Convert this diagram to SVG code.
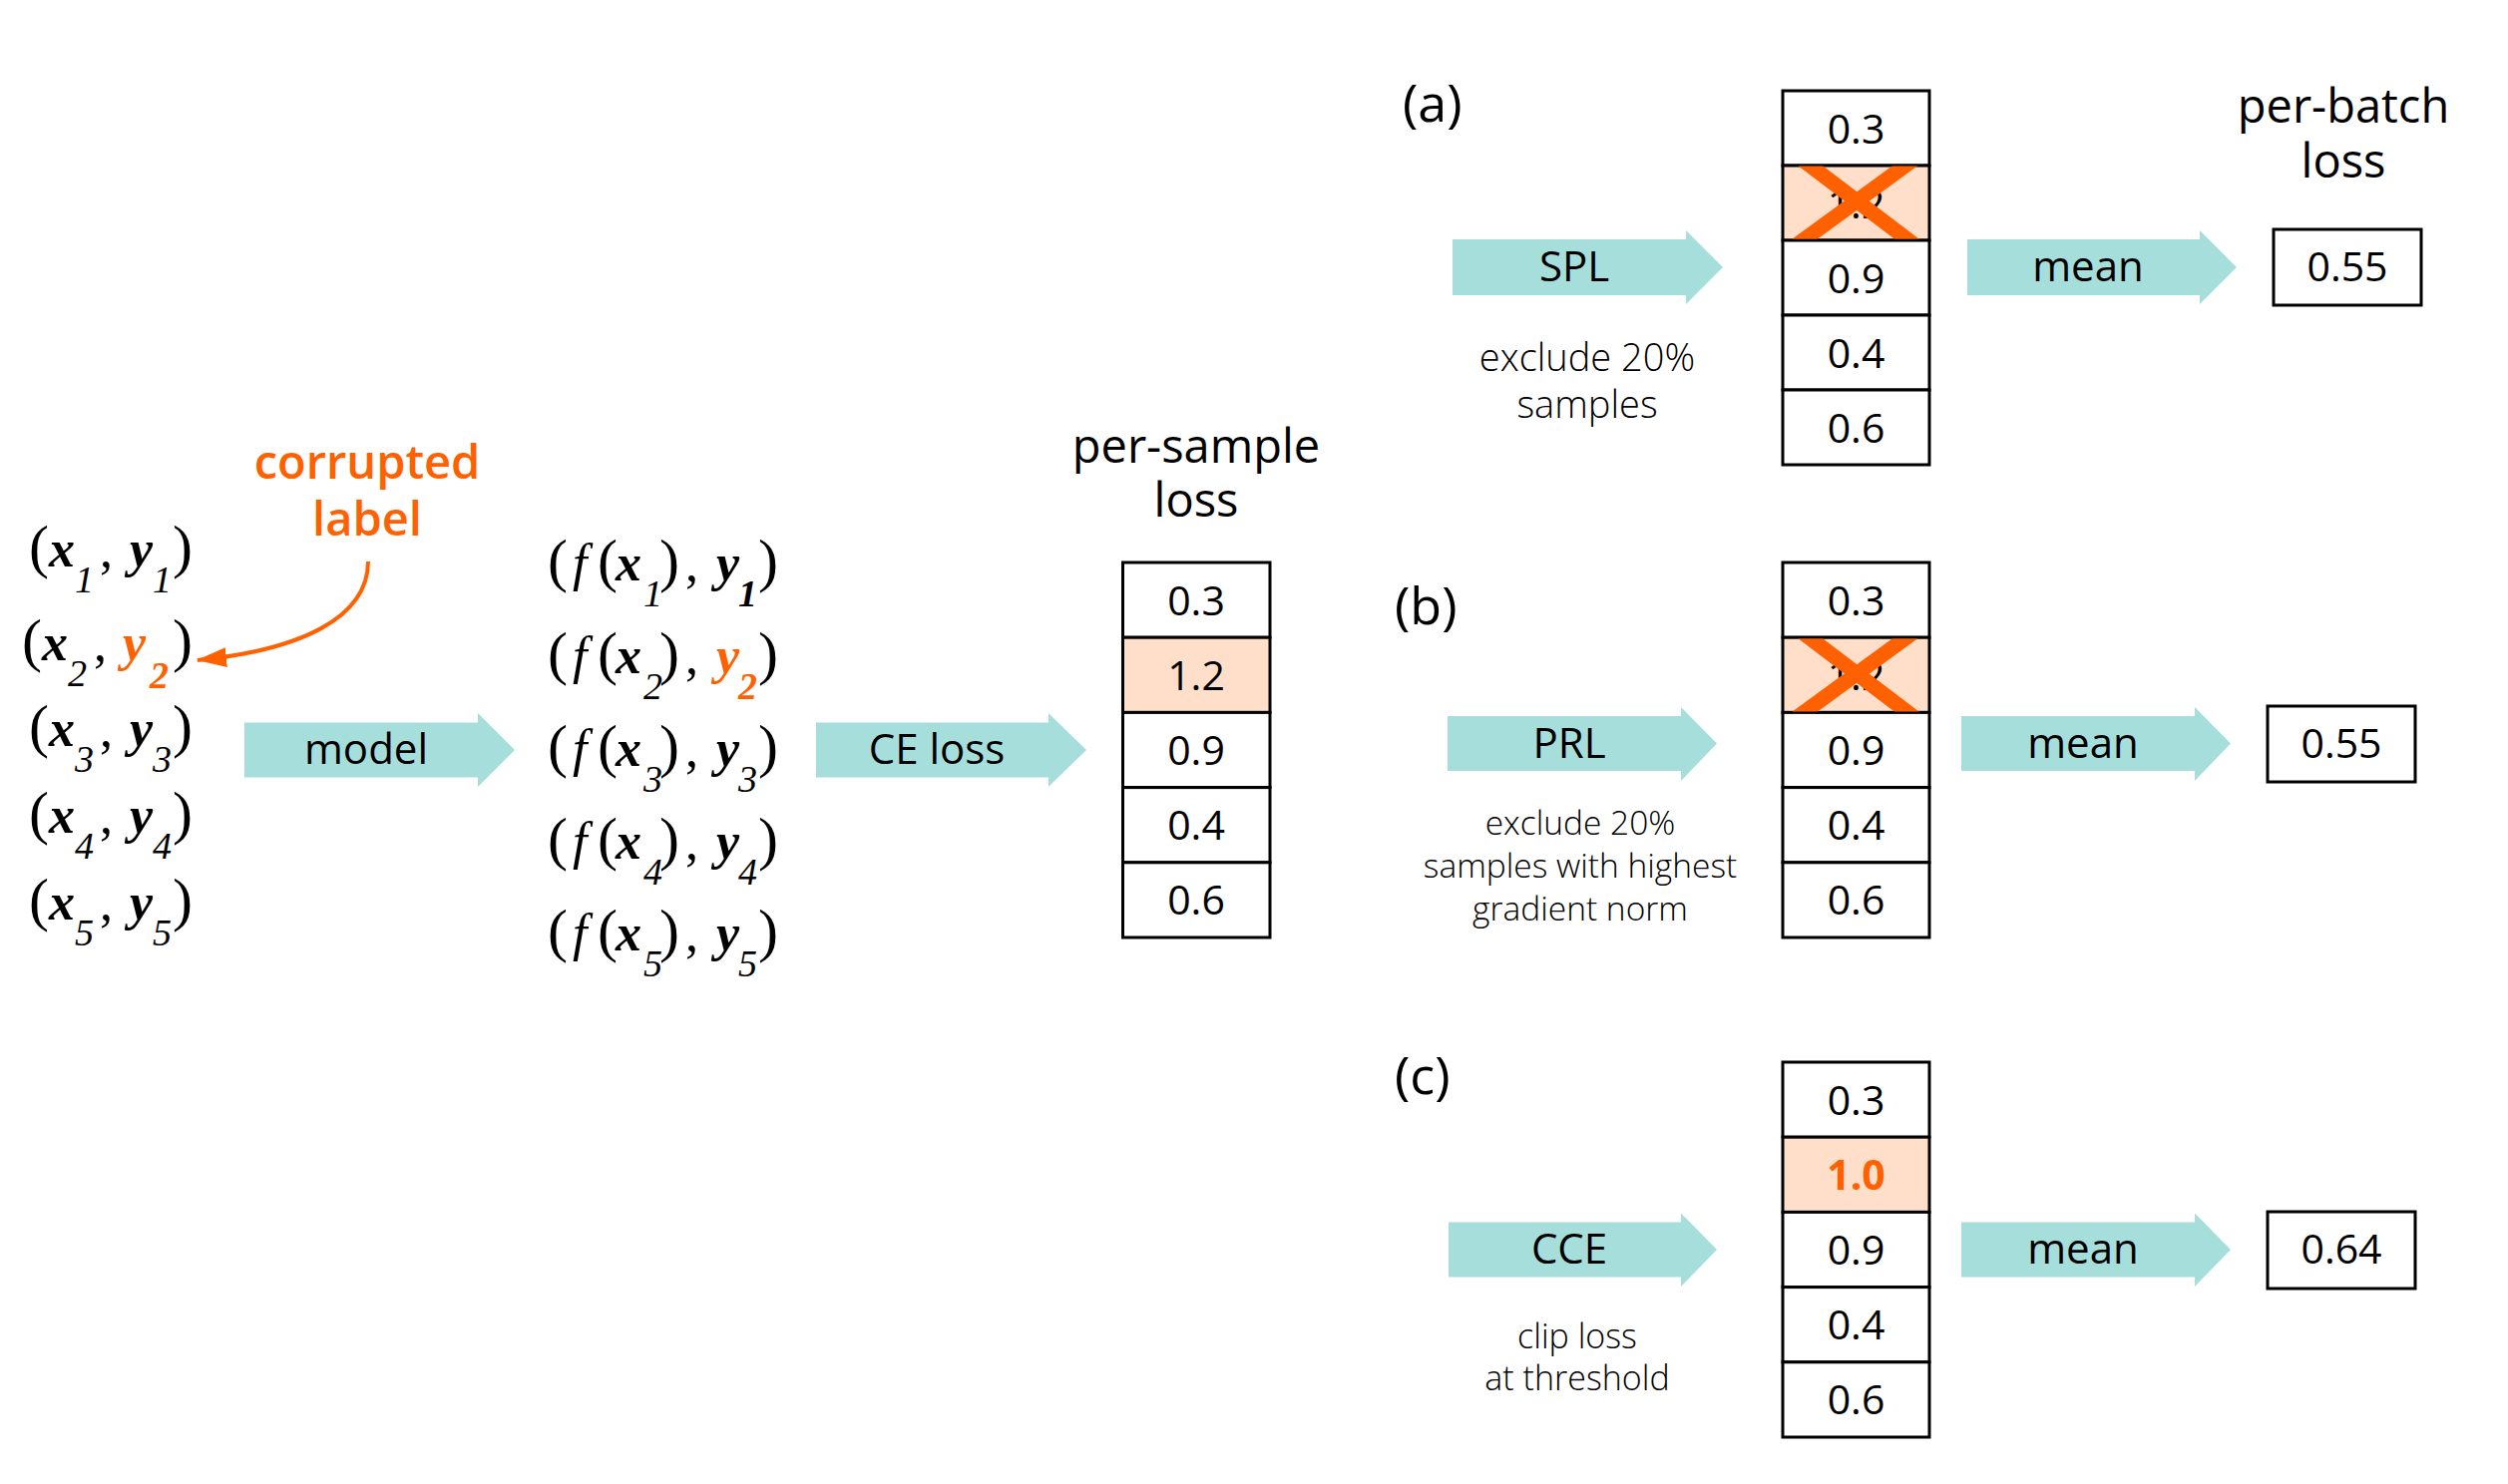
<svg xmlns="http://www.w3.org/2000/svg" width="2514" height="1488" viewBox="0 0 2514 1488">
<style>
.sans{font-family:"Open Sans","Noto Sans","Liberation Sans",sans-serif;fill:#000}
.lbl{font-size:42px;text-anchor:middle}
.num{font-size:41px;text-anchor:middle}
.ttl{font-size:47px;text-anchor:middle}
.note{font-weight:300;text-anchor:middle}
.tag{font-size:52px}
.cell{fill:#fff;stroke:#000;stroke-width:3}
.hi{fill:#FFDFCA;stroke:#000;stroke-width:3}
.arr{fill:#A6DEDC}
.xm{stroke:#FF6000;stroke-width:15;fill:none}
.m{font-family:"Liberation Serif","Times New Roman",serif;fill:#000}
.p{font-size:60px}
.v{font-size:52px;font-weight:bold;font-style:italic}
.s{font-size:38px;font-style:italic}
.sb{font-size:38px;font-style:italic;font-weight:bold}
.f{font-size:52px;font-style:italic}
.c{font-size:52px}
.o{fill:#FF6000}
</style>
<defs>
<clipPath id="clipA"><rect x="1788.5" y="166.5" width="144" height="73"/></clipPath>
<clipPath id="clipB"><rect x="1788.5" y="640.5" width="144" height="73"/></clipPath>
<marker id="ah" viewBox="0 0 30 20" refX="29" refY="10" markerWidth="30" markerHeight="20" markerUnits="userSpaceOnUse" orient="auto"><path d="M0,0 L30,10 L0,20 Z" fill="#FF6000"/></marker>
</defs>

<g id="inputs">
<text class="m"><tspan class="p" x="29" y="568">(</tspan><tspan class="v" x="49" y="568">x</tspan><tspan class="s" x="75" y="594">1</tspan><tspan class="c" x="100" y="568">,</tspan><tspan class="v" x="130" y="568">y</tspan><tspan class="s" x="153" y="594">1</tspan><tspan class="p" x="173" y="568">)</tspan></text>
<text class="m"><tspan class="p" x="22" y="662">(</tspan><tspan class="v" x="42" y="662">x</tspan><tspan class="s" x="68" y="688">2</tspan><tspan class="c" x="94" y="662">,</tspan><tspan class="v o" x="123" y="662">y</tspan><tspan class="sb o" x="150" y="690">2</tspan><tspan class="p" x="173" y="662">)</tspan></text>
<text class="m"><tspan class="p" x="29" y="748">(</tspan><tspan class="v" x="49" y="748">x</tspan><tspan class="s" x="75" y="774">3</tspan><tspan class="c" x="100" y="748">,</tspan><tspan class="v" x="130" y="748">y</tspan><tspan class="s" x="153" y="774">3</tspan><tspan class="p" x="173" y="748">)</tspan></text>
<text class="m"><tspan class="p" x="29" y="835">(</tspan><tspan class="v" x="49" y="835">x</tspan><tspan class="s" x="75" y="861">4</tspan><tspan class="c" x="100" y="835">,</tspan><tspan class="v" x="130" y="835">y</tspan><tspan class="s" x="153" y="861">4</tspan><tspan class="p" x="173" y="835">)</tspan></text>
<text class="m"><tspan class="p" x="29" y="922">(</tspan><tspan class="v" x="49" y="922">x</tspan><tspan class="s" x="75" y="948">5</tspan><tspan class="c" x="100" y="922">,</tspan><tspan class="v" x="130" y="922">y</tspan><tspan class="s" x="153" y="948">5</tspan><tspan class="p" x="173" y="922">)</tspan></text>
</g>

<g id="corrupted-label">
<text class="sans ttl o" font-weight="600"><tspan x="368" y="480">corrupted</tspan><tspan x="368" y="537">label</tspan></text>
</g>

<g id="outputs">
<text class="m"><tspan class="p" x="549" y="582">(</tspan><tspan class="f" x="574" y="582">f</tspan><tspan class="p" x="599" y="582">(</tspan><tspan class="v" x="617" y="582">x</tspan><tspan class="s" x="645" y="608">1</tspan><tspan class="p" x="661" y="582">)</tspan><tspan class="c" x="687" y="582">,</tspan><tspan class="v" x="718" y="582">y</tspan><tspan class="sb" x="740" y="608">1</tspan><tspan class="p" x="760" y="582">)</tspan></text>
<text class="m"><tspan class="p" x="549" y="675">(</tspan><tspan class="f" x="574" y="675">f</tspan><tspan class="p" x="599" y="675">(</tspan><tspan class="v" x="617" y="675">x</tspan><tspan class="s" x="645" y="701">2</tspan><tspan class="p" x="661" y="675">)</tspan><tspan class="c" x="687" y="675">,</tspan><tspan class="v o" x="718" y="675">y</tspan><tspan class="sb o" x="740" y="701">2</tspan><tspan class="p" x="760" y="675">)</tspan></text>
<text class="m"><tspan class="p" x="549" y="768">(</tspan><tspan class="f" x="574" y="768">f</tspan><tspan class="p" x="599" y="768">(</tspan><tspan class="v" x="617" y="768">x</tspan><tspan class="s" x="645" y="794">3</tspan><tspan class="p" x="661" y="768">)</tspan><tspan class="c" x="687" y="768">,</tspan><tspan class="v" x="718" y="768">y</tspan><tspan class="s" x="740" y="794">3</tspan><tspan class="p" x="760" y="768">)</tspan></text>
<text class="m"><tspan class="p" x="549" y="861">(</tspan><tspan class="f" x="574" y="861">f</tspan><tspan class="p" x="599" y="861">(</tspan><tspan class="v" x="617" y="861">x</tspan><tspan class="s" x="645" y="887">4</tspan><tspan class="p" x="661" y="861">)</tspan><tspan class="c" x="687" y="861">,</tspan><tspan class="v" x="718" y="861">y</tspan><tspan class="s" x="740" y="887">4</tspan><tspan class="p" x="760" y="861">)</tspan></text>
<text class="m"><tspan class="p" x="549" y="953">(</tspan><tspan class="f" x="574" y="953">f</tspan><tspan class="p" x="599" y="953">(</tspan><tspan class="v" x="617" y="953">x</tspan><tspan class="s" x="645" y="979">5</tspan><tspan class="p" x="661" y="953">)</tspan><tspan class="c" x="687" y="953">,</tspan><tspan class="v" x="718" y="953">y</tspan><tspan class="s" x="740" y="979">5</tspan><tspan class="p" x="760" y="953">)</tspan></text>
</g>

<g id="per-sample-loss">
<text class="sans ttl"><tspan x="1199" y="464">per-sample</tspan><tspan x="1199" y="518">loss</tspan></text>
<rect class="cell" x="1125.5" y="564" width="147.5" height="75.2"/>
<rect class="hi" x="1125.5" y="639.2" width="147.5" height="75.2"/>
<rect class="cell" x="1125.5" y="714.4" width="147.5" height="75.2"/>
<rect class="cell" x="1125.5" y="789.6" width="147.5" height="75.2"/>
<rect class="cell" x="1125.5" y="864.8" width="147.5" height="75.2"/>
<text class="sans num" x="1199" y="617">0.3</text>
<text class="sans num" x="1199" y="692">1.2</text>
<text class="sans num" x="1199" y="767">0.9</text>
<text class="sans num" x="1199" y="842">0.4</text>
<text class="sans num" x="1199" y="917">0.6</text>
</g>

<g id="panel-a">
<text class="sans tag" x="1406" y="122">(a)</text>
<text class="sans ttl"><tspan x="2349" y="123">per-batch</tspan><tspan x="2349" y="178">loss</tspan></text>
<rect class="cell" x="1787" y="91" width="147" height="75"/>
<rect class="hi" x="1787" y="166" width="147" height="75"/>
<rect class="cell" x="1787" y="241" width="147" height="75"/>
<rect class="cell" x="1787" y="316" width="147" height="75"/>
<rect class="cell" x="1787" y="391" width="147" height="75"/>
<text class="sans num" x="1860.5" y="143.5">0.3</text>
<text class="sans num" x="1860.5" y="218.5">1.2</text>
<text class="sans num" x="1860.5" y="293.5">0.9</text>
<text class="sans num" x="1860.5" y="368.5">0.4</text>
<text class="sans num" x="1860.5" y="443.5">0.6</text>
<g clip-path="url(#clipA)">
<line class="xm" x1="1800" y1="155" x2="1925" y2="250"/>
<line class="xm" x1="1925" y1="155" x2="1795" y2="250"/>
</g>
<text class="sans note" font-size="38"><tspan x="1591" y="372">exclude 20%</tspan><tspan x="1591" y="419">samples</tspan></text>
<rect class="cell" x="2279" y="230" width="148" height="76"/>
<text class="sans num" x="2353" y="282">0.55</text>
</g>

<g id="panel-b">
<text class="sans tag" x="1398" y="626">(b)</text>
<rect class="cell" x="1787" y="564" width="147" height="75.2"/>
<rect class="hi" x="1787" y="639.2" width="147" height="75.2"/>
<rect class="cell" x="1787" y="714.4" width="147" height="75.2"/>
<rect class="cell" x="1787" y="789.6" width="147" height="75.2"/>
<rect class="cell" x="1787" y="864.8" width="147" height="75.2"/>
<text class="sans num" x="1860.5" y="617">0.3</text>
<text class="sans num" x="1860.5" y="692">1.2</text>
<text class="sans num" x="1860.5" y="767">0.9</text>
<text class="sans num" x="1860.5" y="842">0.4</text>
<text class="sans num" x="1860.5" y="917">0.6</text>
<g clip-path="url(#clipB)">
<line class="xm" x1="1800" y1="629" x2="1925" y2="724"/>
<line class="xm" x1="1925" y1="629" x2="1795" y2="724"/>
</g>
<text class="sans note" font-size="33.5"><tspan x="1584" y="837">exclude 20%</tspan><tspan x="1584" y="880">samples with highest</tspan><tspan x="1584" y="923">gradient norm</tspan></text>
<rect class="cell" x="2273" y="708" width="148" height="76"/>
<text class="sans num" x="2347" y="760">0.55</text>
</g>

<g id="panel-c">
<text class="sans tag" x="1398" y="1097">(c)</text>
<rect class="cell" x="1787" y="1065" width="147" height="75.2"/>
<rect class="hi" x="1787" y="1140.2" width="147" height="75.2"/>
<rect class="cell" x="1787" y="1215.4" width="147" height="75.2"/>
<rect class="cell" x="1787" y="1290.6" width="147" height="75.2"/>
<rect class="cell" x="1787" y="1365.8" width="147" height="75.2"/>
<text class="sans num" x="1860.5" y="1118">0.3</text>
<text class="sans num o" font-weight="bold" x="1860.5" y="1193">1.0</text>
<text class="sans num" x="1860.5" y="1268">0.9</text>
<text class="sans num" x="1860.5" y="1343">0.4</text>
<text class="sans num" x="1860.5" y="1418">0.6</text>
<text class="sans note" font-size="34"><tspan x="1581" y="1352">clip loss</tspan><tspan x="1581" y="1394">at threshold</tspan></text>
<rect class="cell" x="2273" y="1215" width="148" height="77"/>
<text class="sans num" x="2347" y="1267">0.64</text>
</g>

<g id="connectors">
<path d="M369,563 C369,620 300,652 198,662" fill="none" stroke="#FF6000" stroke-width="4" marker-end="url(#ah)"/>
<polygon class="arr" points="245,724.5 479,724.5 479,715 516,752 479,789 479,779.5 245,779.5"/>
<text class="sans lbl" x="367" y="766">model</text>
<polygon class="arr" points="818,724.5 1051,724.5 1051,715 1089,752 1051,789 1051,779.5 818,779.5"/>
<text class="sans lbl" x="939" y="766">CE loss</text>
<polygon class="arr" points="1456,240 1690,240 1690,231 1727,268 1690,305 1690,296 1456,296"/>
<text class="sans lbl" x="1578" y="282">SPL</text>
<polygon class="arr" points="1972,240 2205,240 2205,231 2242,268 2205,305 2205,296 1972,296"/>
<text class="sans lbl" x="2093" y="282">mean</text>
<polygon class="arr" points="1451,718 1685,718 1685,709 1721,745.5 1685,783 1685,773 1451,773"/>
<text class="sans lbl" x="1573" y="759.5">PRL</text>
<polygon class="arr" points="1966,718 2200,718 2200,709 2236,745.5 2200,783 2200,773 1966,773"/>
<text class="sans lbl" x="2088" y="759.5">mean</text>
<polygon class="arr" points="1452,1225.5 1685,1225.5 1685,1216.5 1721,1253 1685,1290 1685,1280.5 1452,1280.5"/>
<text class="sans lbl" x="1573" y="1267">CCE</text>
<polygon class="arr" points="1966,1225.5 2200,1225.5 2200,1216.5 2236,1253 2200,1290 2200,1280.5 1966,1280.5"/>
<text class="sans lbl" x="2088" y="1267">mean</text>
</g>
</svg>
